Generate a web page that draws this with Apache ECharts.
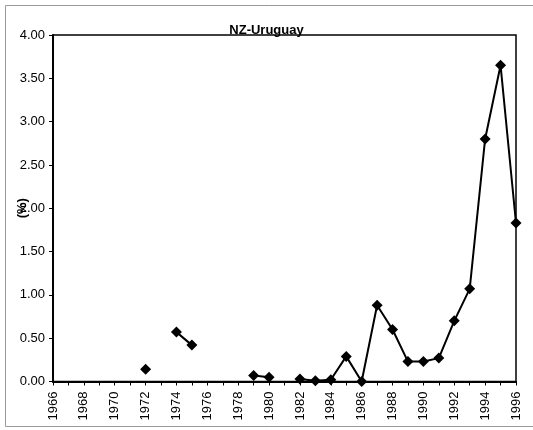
<!DOCTYPE html>
<html><head><meta charset="utf-8">
<script src="https://cdn.jsdelivr.net/npm/echarts@6/dist/echarts.min.js"></script>
<style>html,body{margin:0;padding:0;background:#fff}#c{width:533px;height:430px}</style>
</head><body><div id="c"></div>
<script>
const years = [];
for (let y = 1966; y <= 1996; y++) years.push(String(y));
const values = [
  null, null, null, null, null, null,   // 1966-1971
  0.14, null, 0.57, 0.42,               // 1972-1975
  null, null, null,                     // 1976-1978
  0.07, 0.05, null,                     // 1979-1981
  0.03, 0.01, 0.02, 0.29, 0.00,         // 1982-1986
  0.88, 0.60, 0.23, 0.23, 0.27,         // 1987-1991
  0.70, 1.07, 2.80, 3.65, 1.83          // 1992-1996
];
const titleText = "NZ-Uruguay";
const yName = "(%)";

const chart = echarts.init(document.getElementById('c'), null, {renderer: 'canvas'});
chart.setOption({
  animation: false,
  backgroundColor: '#fff',
  textStyle: {fontFamily: 'Liberation Sans'},
  title: {
    text: titleText, left: 'center', top: 19,
    textStyle: {fontSize: 13, fontWeight: 'bold', color: '#000', fontFamily: 'Liberation Sans'}
  },
  graphic: [{
    type: 'rect', shape: {x: 5.5, y: 5.5, width: 540, height: 421},
    style: {fill: 'none', stroke: '#999', lineWidth: 1}, silent: true
  }],
  grid: {left: 53, right: 17, top: 35, bottom: 48.5, show: true, borderColor: '#000', borderWidth: 1.5},
  xAxis: {
    type: 'category', data: years, boundaryGap: false,
    axisLine: {lineStyle: {color: '#000', width: 2}},
    axisTick: {show: true, interval: 0, length: 4, lineStyle: {color: '#000'}},
    axisLabel: {interval: 1, rotate: 90, margin: 10, fontSize: 13, color: '#000', fontFamily: 'Liberation Sans'},
    splitLine: {show: false}
  },
  yAxis: {
    type: 'value', min: 0, max: 4, interval: 0.5,
    name: yName, nameLocation: 'middle', nameRotate: 90, nameGap: 24, nameMoveOverlap: false,
    nameTextStyle: {fontSize: 13, fontWeight: 'bold', color: '#000', fontFamily: 'Liberation Sans'},
    axisLine: {show: true, lineStyle: {color: '#000', width: 2}},
    axisTick: {show: true, length: 4, lineStyle: {color: '#000'}},
    axisLabel: {formatter: v => v.toFixed(2), fontSize: 13, color: '#000', margin: 8, fontFamily: 'Liberation Sans'},
    splitLine: {show: false}
  },
  series: [{
    type: 'line', data: values, connectNulls: false,
    symbol: 'diamond', symbolSize: 11, showAllSymbol: true,
    lineStyle: {color: '#000', width: 2},
    itemStyle: {color: '#000'}
  }]
});
</script></body></html>
